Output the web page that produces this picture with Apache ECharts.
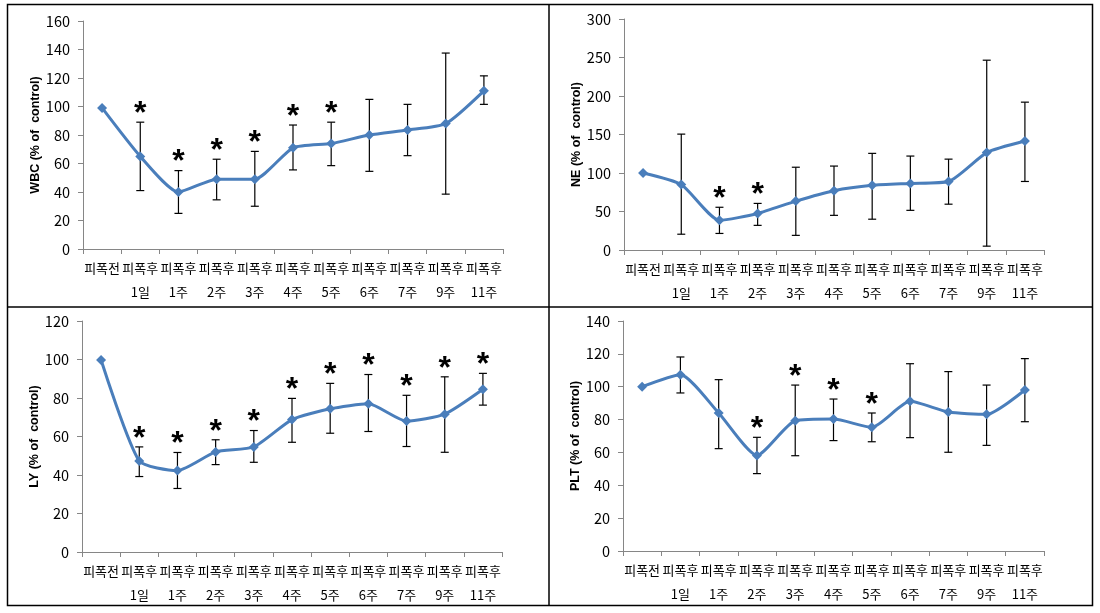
<!DOCTYPE html>
<html>
<head>
<meta charset="utf-8">
<script src="https://cdn.jsdelivr.net/npm/echarts@6/dist/echarts.min.js"></script>
<style>
html,body{margin:0;padding:0;background:#fff;}
#chart{width:1100px;height:613px;}
</style>
</head>
<body>
<div id="chart"></div>
<script>
const categories = ['피폭전', '피폭후\n1일', '피폭후\n1주', '피폭후\n2주', '피폭후\n3주', '피폭후\n4주', '피폭후\n5주', '피폭후\n6주', '피폭후\n7주', '피폭후\n9주', '피폭후\n11주'];

const wbcMean = [99, 65, 40, 49, 49, 71, 74, 80, 83.5, 88, 111];
const wbcHigh = [null, 89, 55, 63, 68.5, 87, 89, 105, 101.5, 137.5, 121.5];
const wbcLow  = [null, 41, 25, 34.5, 30, 55.5, 58.5, 54.5, 65.5, 38.5, 101.5];
const wbcSig  = [0, 1, 1, 1, 1, 1, 1, 0, 0, 0, 0];

const neMean = [100, 85, 38.5, 47.5, 63.5, 77, 84, 86.5, 89, 126.5, 141.5];
const neHigh = [null, 150.5, 55.5, 60.5, 107.5, 109, 125.5, 122, 118, 246.5, 192];
const neLow  = [null, 20.5, 21.5, 32, 19, 45, 40, 51.5, 59.5, 5, 89];
const neSig  = [0, 0, 1, 1, 0, 0, 0, 0, 0, 0, 0];

const lyMean = [99.7, 47.3, 42.3, 52, 54.6, 68.8, 74.4, 77, 68, 71.6, 84.5];
const lyHigh = [null, 54.6, 51.7, 58.3, 63.1, 79.8, 87.6, 92.2, 81.4, 91, 92.8];
const lyLow  = [null, 39.2, 33, 45.4, 46.6, 57, 61.7, 62.6, 54.8, 51.8, 76.3];
const lySig  = [0, 1, 1, 1, 1, 1, 1, 1, 1, 1, 1];

const pltMean = [100, 107.3, 84, 58.2, 79.3, 80.3, 75.3, 91.1, 84.6, 83.2, 98];
const pltHigh = [null, 118.1, 104.3, 69.2, 101, 92.5, 84, 114, 109.2, 101, 117.1];
const pltLow  = [null, 96.2, 62.3, 47.1, 58, 67.2, 66.5, 69, 60.1, 64.3, 78.7];
const pltSig  = [0, 0, 0, 1, 1, 1, 1, 0, 0, 0, 0];

const panels = [
  {name: 'WBC (% of  control)', mean: wbcMean, high: wbcHigh, low: wbcLow, sig: wbcSig, max: 160, interval: 20,
   grid: {left: 83, right: 597, top: 21, bottom: 364}},
  {name: 'NE (% of  control)', mean: neMean, high: neHigh, low: neLow, sig: neSig, max: 300, interval: 50,
   grid: {left: 624, right: 56, top: 19, bottom: 363}},
  {name: 'LY (% of  control)', mean: lyMean, high: lyHigh, low: lyLow, sig: lySig, max: 120, interval: 20,
   grid: {left: 82, right: 598, top: 321, bottom: 61}},
  {name: 'PLT (% of  control)', mean: pltMean, high: pltHigh, low: pltLow, sig: pltSig, max: 140, interval: 20,
   grid: {left: 623, right: 56, top: 321, bottom: 62}}
];

const axisColor = '#868686';
const lineColor = '#4a7ebb';
const font = '"Noto Sans CJK KR", "Liberation Sans", sans-serif';

const grids = [], xAxes = [], yAxes = [], series = [];
panels.forEach((p, k) => {
  grids.push(p.grid);
  xAxes.push({
    type: 'category', gridIndex: k, data: categories, boundaryGap: true,
    axisLine: {lineStyle: {color: axisColor, width: 1}},
    axisTick: {show: true, length: 5, lineStyle: {color: axisColor}},
    axisLabel: {interval: 0, color: '#000', fontSize: 13, lineHeight: 24, margin: 7, fontFamily: font},
    splitLine: {show: false}
  });
  yAxes.push({
    type: 'value', gridIndex: k, min: 0, max: p.max, interval: p.interval,
    name: p.name, nameLocation: 'middle', nameGap: 40,
    nameTextStyle: {fontSize: 12.5, fontWeight: 'bold', color: '#000', fontFamily: '"Liberation Sans", Arial, sans-serif'},
    axisLine: {show: true, lineStyle: {color: axisColor, width: 1}},
    axisTick: {show: true, length: 5, lineStyle: {color: axisColor}},
    axisLabel: {color: '#000', fontSize: 14.5, margin: 13, fontFamily: font},
    splitLine: {show: false}
  });
  const errData = [];
  p.mean.forEach((m, i) => {
    if (p.high[i] != null && p.low[i] != null) errData.push([i, p.low[i], p.high[i], p.sig[i]]);
    else if (p.sig[i]) errData.push([i, m, m, p.sig[i]]);
  });
  series.push({
    type: 'custom', xAxisIndex: k, yAxisIndex: k, z: 1,
    data: errData,
    encode: {x: 0, y: [1, 2]},
    renderItem: function (params, api) {
      const i = api.value(0);
      const lo = api.coord([i, api.value(1)]);
      const hi = api.coord([i, api.value(2)]);
      const cap = 4;
      const children = [];
      if (api.value(1) !== api.value(2)) {
        children.push({type: 'line', shape: {x1: lo[0], y1: lo[1], x2: hi[0], y2: hi[1]}, style: {stroke: '#000', lineWidth: 1.2}});
        children.push({type: 'line', shape: {x1: hi[0] - cap, y1: hi[1], x2: hi[0] + cap, y2: hi[1]}, style: {stroke: '#000', lineWidth: 1.2}});
        children.push({type: 'line', shape: {x1: lo[0] - cap, y1: lo[1], x2: lo[0] + cap, y2: lo[1]}, style: {stroke: '#000', lineWidth: 1.2}});
      }
      if (api.value(3)) {
        children.push({type: 'text', style: {text: '*', x: hi[0], y: hi[1] + 8, textAlign: 'center', textVerticalAlign: 'bottom',
          font: 'bold 32px "Liberation Sans", Arial, sans-serif', fill: '#000'}});
      }
      return {type: 'group', children: children};
    }
  });
  series.push({
    type: 'line', xAxisIndex: k, yAxisIndex: k, z: 3,
    data: p.mean, smooth: 0.2,
    symbol: 'diamond', symbolSize: 10, showSymbol: true,
    lineStyle: {color: lineColor, width: 3},
    itemStyle: {color: lineColor},
    emphasis: {disabled: true}
  });
});

const chart = echarts.init(document.getElementById('chart'), null, {renderer: 'canvas'});
chart.setOption({
  backgroundColor: '#fff',
  animation: false,
  grid: grids,
  xAxis: xAxes,
  yAxis: yAxes,
  series: series,
  graphic: [
    {type: 'rect', shape: {x: 7.5, y: 4.5, width: 1085, height: 601}, style: {fill: 'none', stroke: '#000', lineWidth: 1.5}, silent: true},
    {type: 'line', shape: {x1: 549, y1: 4.5, x2: 549, y2: 605.5}, style: {stroke: '#000', lineWidth: 1.5}, silent: true},
    {type: 'line', shape: {x1: 7.5, y1: 307, x2: 1092.5, y2: 307}, style: {stroke: '#000', lineWidth: 1.5}, silent: true}
  ]
});
</script>
</body>
</html>
